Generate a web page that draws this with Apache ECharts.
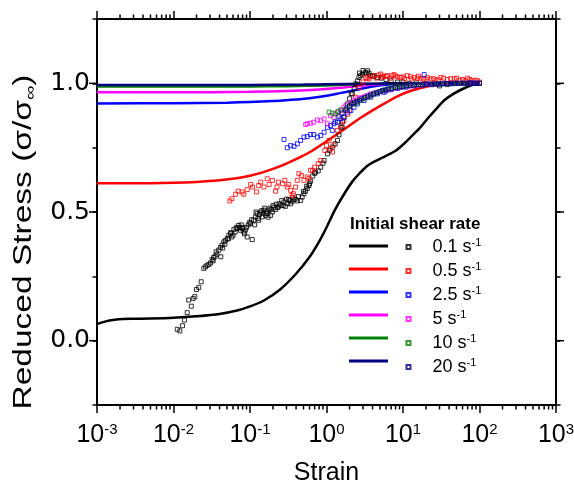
<!DOCTYPE html>
<html><head><meta charset="utf-8">
<script src="https://cdn.jsdelivr.net/npm/echarts@6/dist/echarts.min.js"></script>
<style>html,body{margin:0;padding:0;background:#fff}#c{width:574px;height:483px}</style>
</head><body><div id="c"></div>
<script>
// ---- data ----
const rates = ['0.1', '0.5', '2.5', '5', '10', '20'];
const colors = ['#000000', '#ff0000', '#0000ff', '#ff00ff', '#008000', '#000080'];
const xTickLabels = ['10^-3', '10^-2', '10^-1', '10^0', '10^1', '10^2', '10^3'];
const yTickLabels = ['0.0', '0.5', '1.0'];

// model curves
const fitX_01 = [0.001, 0.0013, 0.0017, 0.0022, 0.003, 0.005, 0.01, 0.02, 0.04, 0.07, 0.1, 0.15, 0.25, 0.4, 0.6, 0.8, 1.0, 1.3, 1.7, 2.2, 2.8, 3.5, 4.5, 6, 8, 10, 13, 17, 22, 28, 35, 45, 60, 80, 100];
const fitY_01 = [0.064, 0.075, 0.081, 0.084, 0.085, 0.086, 0.089, 0.095, 0.104, 0.118, 0.133, 0.155, 0.2, 0.26, 0.325, 0.385, 0.44, 0.51, 0.57, 0.62, 0.655, 0.682, 0.70, 0.718, 0.738, 0.762, 0.795, 0.83, 0.87, 0.905, 0.935, 0.958, 0.978, 0.993, 1.0];
const fitX_05 = [0.001, 0.003, 0.01, 0.02, 0.04, 0.07, 0.1, 0.15, 0.25, 0.4, 0.6, 1, 1.5, 2.2, 3, 4, 6, 9, 13, 20, 30, 45, 70, 100];
const fitY_05 = [0.612, 0.612, 0.614, 0.617, 0.623, 0.632, 0.641, 0.655, 0.678, 0.705, 0.732, 0.775, 0.81, 0.845, 0.872, 0.895, 0.925, 0.953, 0.972, 0.987, 0.995, 0.999, 1.0, 1.0];
const fitX_25 = [0.001, 0.01, 0.05, 0.1, 0.2, 0.4, 0.7, 1, 1.5, 2.5, 4, 7, 12, 20, 40, 100];
const fitY_25 = [0.922, 0.923, 0.925, 0.927, 0.931, 0.937, 0.945, 0.952, 0.962, 0.975, 0.988, 0.996, 0.999, 1.0, 1.0, 1.0];
const fitX_5 = [0.001, 0.01, 0.1, 0.3, 0.7, 1.5, 3, 6, 10, 100];
const fitY_5 = [0.965, 0.965, 0.967, 0.970, 0.975, 0.983, 0.992, 0.998, 1.0, 1.0];
const fitX_10 = [0.001, 0.01, 0.1, 0.3, 1, 3, 10, 100];
const fitY_10 = [0.988, 0.988, 0.988, 0.989, 0.992, 0.997, 1.0, 1.0];
const fitX_20 = [0.001, 0.01, 0.1, 0.5, 1, 3, 10, 100];
const fitY_20 = [0.994, 0.994, 0.994, 0.995, 0.996, 0.998, 1.0, 1.0];

// experimental points [strain, reduced stress]
const exp_01 = [[0.0112,0.044],[0.0121,0.038],[0.0131,0.058],[0.0139,0.080],[0.0151,0.109],[0.0158,0.158],[0.0171,0.134],[0.0181,0.164],[0.019,0.171],[0.020,0.199],[0.0214,0.207],[0.023,0.229],[0.0249,0.281],[0.0262,0.287],[0.0275,0.293],[0.029,0.296],[0.0305,0.302],[0.032,0.315],[0.033,0.31],[0.0335,0.323],[0.035,0.328],[0.036,0.345],[0.037,0.336],[0.039,0.352],[0.041,0.362],[0.0415,0.326],[0.043,0.371],[0.044,0.36],[0.0455,0.384],[0.047,0.375],[0.048,0.39],[0.0505,0.397],[0.052,0.395],[0.053,0.41],[0.0557,0.416],[0.056,0.42],[0.058,0.403],[0.06,0.41],[0.0615,0.432],[0.064,0.422],[0.066,0.44],[0.068,0.436],[0.071,0.448],[0.073,0.44],[0.075,0.429],[0.077,0.45],[0.079,0.436],[0.081,0.44],[0.083,0.422],[0.085,0.415],[0.087,0.43],[0.09,0.44],[0.092,0.403],[0.095,0.45],[0.099,0.46],[0.102,0.455],[0.105,0.47],[0.107,0.393],[0.112,0.468],[0.115,0.45],[0.118,0.481],[0.12,0.5],[0.124,0.494],[0.127,0.475],[0.13,0.468],[0.133,0.49],[0.138,0.5],[0.142,0.505],[0.145,0.481],[0.148,0.495],[0.152,0.507],[0.156,0.515],[0.16,0.487],[0.164,0.5],[0.168,0.494],[0.172,0.48],[0.177,0.507],[0.182,0.515],[0.186,0.487],[0.19,0.51],[0.196,0.5],[0.2,0.525],[0.206,0.519],[0.215,0.51],[0.22,0.53],[0.228,0.517],[0.235,0.52],[0.24,0.532],[0.251,0.526],[0.26,0.545],[0.27,0.525],[0.278,0.539],[0.29,0.522],[0.3,0.55],[0.307,0.532],[0.32,0.548],[0.33,0.545],[0.34,0.532],[0.355,0.54],[0.36,0.555],[0.376,0.548],[0.39,0.55],[0.416,0.543],[0.43,0.56],[0.459,0.545],[0.48,0.558],[0.5,0.58],[0.507,0.571],[0.53,0.581],[0.55,0.6],[0.561,0.591],[0.59,0.603],[0.6,0.61],[0.62,0.62],[0.66,0.64],[0.7,0.65],[0.72,0.655],[0.78,0.66],[0.84,0.674],[0.9,0.69],[0.93,0.70],[1.03,0.726],[1.1,0.74],[1.19,0.752],[1.3,0.765],[1.39,0.778],[1.46,0.80],[1.54,0.829],[1.6,0.83],[1.62,0.85],[1.69,0.868],[1.78,0.895],[1.88,0.92],[2.0,0.94],[2.1,0.96],[2.18,0.959],[2.3,0.98],[2.41,0.998],[2.55,1.01],[2.66,1.023],[2.7,1.04],[2.8,1.03],[2.95,1.036],[3.0,1.05],[3.2,1.043],[3.3,1.04],[3.43,1.049],[3.6,1.04],[3.79,1.03],[4.0,1.03],[4.2,1.028],[4.63,1.023],[5.2,1.02],[6,1.015],[7,1.01],[8.5,1.005],[10,1.005],[12,1.0],[15,1.002],[19,0.998],[24,0.995],[30,0.99],[38,0.995],[48,1.0],[60,1.0],[75,1.002],[90,1.0],[100,1.0]];
const exp_05 = [[0.0545,0.543],[0.058,0.552],[0.065,0.569],[0.07,0.581],[0.079,0.578],[0.083,0.569],[0.092,0.587],[0.102,0.607],[0.108,0.597],[0.122,0.578],[0.13,0.603],[0.138,0.616],[0.152,0.597],[0.168,0.629],[0.178,0.607],[0.196,0.623],[0.216,0.581],[0.225,0.597],[0.235,0.616],[0.265,0.61],[0.285,0.623],[0.307,0.597],[0.32,0.607],[0.34,0.584],[0.355,0.564],[0.37,0.571],[0.395,0.597],[0.415,0.623],[0.436,0.649],[0.47,0.642],[0.507,0.623],[0.56,0.636],[0.59,0.63],[0.62,0.662],[0.66,0.662],[0.70,0.674],[0.78,0.688],[0.84,0.70],[0.95,0.739],[1.0,0.758],[1.08,0.778],[1.12,0.746],[1.2,0.733],[1.25,0.76],[1.39,0.817],[1.54,0.836],[1.69,0.855],[1.9,0.88],[2.0,0.894],[2.2,0.92],[2.41,0.946],[2.7,0.984],[3.0,1.005],[3.25,1.023],[3.4,1.02],[3.6,1.017],[3.8,1.025],[4.19,1.03],[4.5,1.02],[4.8,1.032],[5.12,1.036],[5.4,1.024],[5.6,1.028],[6.0,1.027],[6.26,1.03],[6.8,1.02],[7.2,1.03],[7.65,1.034],[8.0,1.028],[8.5,1.025],[9.36,1.023],[10,1.025],[10.5,1.018],[11.4,1.03],[12.5,1.026],[13,1.017],[14,1.023],[15.5,1.02],[16,1.028],[17.1,1.02],[18.5,1.016],[20,1.015],[21,1.022],[23.1,1.017],[25,1.018],[27,1.012],[29,1.014],[31.2,1.023],[34,1.02],[38,1.015],[42,1.018],[46.7,1.017],[50,1.02],[55,1.012],[60,1.015],[65,1.01],[69.8,1.02],[75,1.015],[80,1.01],[88,1.012],[94,1.01],[100,1.005]];
const exp_25 = [[0.278,0.782],[0.307,0.75],[0.34,0.758],[0.376,0.755],[0.416,0.765],[0.459,0.778],[0.507,0.791],[0.56,0.793],[0.62,0.801],[0.68,0.801],[0.76,0.791],[0.84,0.797],[0.93,0.81],[1.03,0.829],[1.13,0.836],[1.19,0.817],[1.25,0.843],[1.39,0.849],[1.54,0.862],[1.69,0.868],[1.88,0.888],[2.08,0.894],[2.29,0.907],[2.55,0.92],[3.1,0.933],[3.78,0.946],[4.63,0.959],[5.65,0.965],[6,0.97],[7,0.975],[8.5,0.98],[9.5,0.985],[11,0.985],[12,0.99],[14,0.99],[15,0.995],[18,0.993],[18.9,1.034],[21,0.997],[24,0.995],[28,0.996],[32,0.997],[36,1.0],[42,0.998],[48,0.999],[55,1.0],[62,1.0],[70,1.0],[78,1.002],[85,1.0],[92,1.0],[100,1.0]];
const exp_5 = [[0.535,0.84],[0.56,0.843],[0.62,0.845],[0.68,0.849],[0.76,0.858],[0.84,0.855],[0.93,0.862],[1.03,0.843],[1.13,0.875],[1.25,0.868],[1.39,0.888],[1.54,0.894],[1.69,0.907],[1.8,0.915],[2.08,0.926],[2.3,0.933],[2.55,0.94],[2.8,0.944],[3.1,0.948],[3.4,0.953],[3.78,0.959],[4.2,0.962],[4.63,0.965],[5.1,0.968],[5.65,0.972],[6.3,0.975],[7,0.978],[8,0.982],[9,0.985],[10,0.987],[12,0.99],[14,0.991],[16,0.993],[19,0.995],[22,0.996],[26,0.997],[30,0.998],[36,0.999],[42,1.0],[50,1.0],[60,1.0],[70,1.0],[80,1.0],[90,1.0],[100,1.0]];
const exp_10 = [[1.08,0.888],[1.19,0.884],[1.3,0.881],[1.42,0.891],[1.54,0.897],[1.88,0.907],[2.0,0.912],[2.29,0.92],[2.5,0.926],[2.8,0.933],[3.1,0.94],[3.43,0.946],[3.8,0.952],[4.19,0.959],[4.6,0.964],[5.12,0.969],[5.6,0.973],[6.26,0.978],[7,0.981],[7.65,0.984],[8.5,0.986],[9.36,0.987],[10.3,0.989],[11.4,0.991],[13,0.993],[15,0.994],[17.1,0.995],[20,0.996],[25,0.997],[30,0.998],[35,0.998],[42,0.999],[50,1.0],[60,1.0],[70,1.0],[85,1.0],[100,1.0]];
const exp_20 = [[1.3,0.85],[1.45,0.87],[1.6,0.885],[1.8,0.9],[2.0,0.912],[2.15,0.92],[2.3,0.925],[2.5,0.93],[2.7,0.935],[2.9,0.94],[3.2,0.945],[3.5,0.95],[3.8,0.955],[4.1,0.958],[4.5,0.963],[4.9,0.967],[5.4,0.972],[5.9,0.975],[6.5,0.978],[7.2,0.98],[8,0.984],[9,0.986],[10,0.988],[11,0.99],[12.5,0.992],[14,0.993],[16,0.995],[18,0.996],[20,0.997],[23,0.997],[26,0.998],[29,0.998],[33,0.999],[37,0.999],[42,1.0],[48,1.0],[55,1.0],[62,1.0],[70,1.0],[78,1.0],[85,1.0],[92,1.0],[100,1.0]];

// ---- build ----
const X_MIN = 0.001, X_MAX = 1000, Y_MIN = -0.25, Y_MAX = 1.25;
const FONT = 'Liberation Sans, Arial, sans-serif';
const FONT_NUM = 'DejaVu Sans, Liberation Sans, sans-serif';
const fitsX = [fitX_01, fitX_05, fitX_25, fitX_5, fitX_10, fitX_20];
const fitsY = [fitY_01, fitY_05, fitY_25, fitY_5, fitY_10, fitY_20];
const exps = [exp_01, exp_05, exp_25, exp_5, exp_10, exp_20];

const minorX = [];
for (let e = -3; e < 3; e++) for (let m = 2; m <= 9; m++) minorX.push([m * Math.pow(10, e), 0]);
const majorY = [[X_MIN, 0], [X_MIN, 0.5], [X_MIN, 1.0]];

const series = [];
rates.forEach((r, i) => {
  series.push({
    name: 'fit ' + r, type: 'line', xAxisIndex: 0, yAxisIndex: 0,
    data: fitsX[i].map((x, k) => [x, fitsY[i][k]]),
    showSymbol: false, smooth: 0.3,
    lineStyle: { color: colors[i], width: 2.5 }, itemStyle: { color: colors[i] },
    z: 2, silent: true
  });
});
rates.forEach((r, i) => {
  series.push({
    name: r, type: 'scatter', xAxisIndex: 0, yAxisIndex: 0,
    data: exps[i], symbol: 'rect', symbolSize: 4,
    itemStyle: { color: 'rgba(255,255,255,0)', borderColor: colors[i], borderWidth: 1 },
    z: 3, silent: true
  });
});
series.push({
  type: 'custom', xAxisIndex: 0, yAxisIndex: 0, data: minorX, clip: false, silent: true, z: 10,
  renderItem: (p, api) => {
    const b = api.coord([api.value(0), Y_MIN]);
    const t = api.coord([api.value(0), Y_MAX]);
    return { type: 'group', children: [
      { type: 'line', shape: { x1: b[0], y1: b[1], x2: b[0], y2: b[1] + 4.5 }, style: { stroke: '#000', lineWidth: 1.5 } },
      { type: 'line', shape: { x1: t[0], y1: t[1], x2: t[0], y2: t[1] - 4.5 }, style: { stroke: '#000', lineWidth: 1.5 } }
    ] };
  }
});
series.push({
  type: 'custom', xAxisIndex: 0, yAxisIndex: 0, data: majorY, clip: false, silent: true, z: 10,
  renderItem: (p, api) => {
    const l = api.coord([X_MIN, api.value(1)]);
    const r = api.coord([X_MAX, api.value(1)]);
    return { type: 'group', children: [
      { type: 'line', shape: { x1: l[0], y1: l[1], x2: l[0] - 8, y2: l[1] }, style: { stroke: '#000', lineWidth: 1.5 } },
      { type: 'line', shape: { x1: r[0], y1: r[1], x2: r[0] + 8, y2: r[1] }, style: { stroke: '#000', lineWidth: 1.5 } }
    ] };
  }
});

const axisLineStyle = { show: true, onZero: false, lineStyle: { color: '#000', width: 2 } };
const xBase = {
  type: 'log', logBase: 10, min: X_MIN, max: X_MAX, splitNumber: 6,
  axisLine: axisLineStyle, splitLine: { show: false },
  axisTick: { show: true, inside: false, length: 8, lineStyle: { color: '#000', width: 1.5 } }
};
const yBase = {
  type: 'value', min: Y_MIN, max: Y_MAX, interval: 0.25,
  axisLine: axisLineStyle, splitLine: { show: false },
  axisTick: { show: true, inside: false, length: 4.5, lineStyle: { color: '#000', width: 1.5 } }
};

const option = {
  animation: false,
  backgroundColor: '#fff',
  textStyle: { fontFamily: FONT },
  grid: { left: 97, right: 18, top: 19, bottom: 78, containLabel: false, outerBoundsMode: 'none' },
  title: {
    text: 'Initial shear rate', left: 350, top: 216, padding: 0,
    textStyle: { fontFamily: FONT, fontSize: 17, fontWeight: 'bold', color: '#000' }
  },
  graphic: [{
    type: 'text', x: 24, y: 242, rotation: Math.PI / 2, scaleX: 1.34, scaleY: 1, silent: true,
    style: {
      text: '{a|Reduced Stress (σ/σ}{b|∞}{a|)}', align: 'center', verticalAlign: 'middle',
      rich: {
        a: { fontFamily: FONT, fontSize: 25, fill: '#000', lineHeight: 28 },
        b: { fontFamily: FONT, fontSize: 15, fill: '#000', verticalAlign: 'bottom', lineHeight: 20 }
      }
    }
  }],
  xAxis: [
    Object.assign({}, xBase, {
      position: 'bottom',
      name: 'Strain', nameLocation: 'middle', nameGap: 56,
      nameTextStyle: { fontFamily: FONT, fontSize: 25, color: '#000' },
      axisLabel: {
        margin: 17, color: '#000',
        formatter: v => {
          const e = Math.round(Math.log10(v));
          const lbl = xTickLabels[e + 3].split('^');
          return '{b|' + lbl[0] + '}{s|' + lbl[1] + '}';
        },
        rich: {
          b: { fontFamily: FONT, fontSize: 25, color: '#000', lineHeight: 26 },
          s: { fontFamily: FONT, fontSize: 15, color: '#000', verticalAlign: 'top', lineHeight: 15 }
        }
      }
    }),
    Object.assign({}, xBase, { position: 'top', axisLabel: { show: false } })
  ],
  yAxis: [
    Object.assign({}, yBase, {
      position: 'left',
      axisLabel: {
        margin: 7, color: '#000', fontFamily: FONT_NUM, fontSize: 25,
        formatter: v => {
          const k = Math.round(v * 2);
          if (Math.abs(v * 2 - k) > 1e-6 || k < 0 || k > 2) return '';
          return yTickLabels[k];
        }
      }
    }),
    Object.assign({}, yBase, { position: 'right', axisLabel: { show: false } })
  ],
  legend: [
    {
      data: rates.map(r => 'fit ' + r), orient: 'vertical', left: 349, top: 237, padding: 0,
      icon: 'rect', itemWidth: 39, itemHeight: 3, itemGap: 5, selectedMode: false,
      formatter: () => '{n| }',
      textStyle: { rich: { n: { fontFamily: FONT, fontSize: 18, lineHeight: 20 } } }
    },
    {
      data: rates, orient: 'vertical', left: 405.5, top: 237, padding: 0,
      itemWidth: 4, itemHeight: 4, itemGap: 5, selectedMode: false,
      formatter: n => '{p|}{n|' + n + ' s}{s|-1}',
      textStyle: {
        rich: {
          p: { width: 17, lineHeight: 20 },
          n: { fontFamily: FONT, fontSize: 18, color: '#000', lineHeight: 20 },
          s: { fontFamily: FONT, fontSize: 11, color: '#000', verticalAlign: 'top', lineHeight: 11 }
        }
      }
    }
  ],
  series: series
};

const chart = echarts.init(document.getElementById('c'), null, { renderer: 'canvas' });
chart.setOption(option);
</script>
</body></html>
